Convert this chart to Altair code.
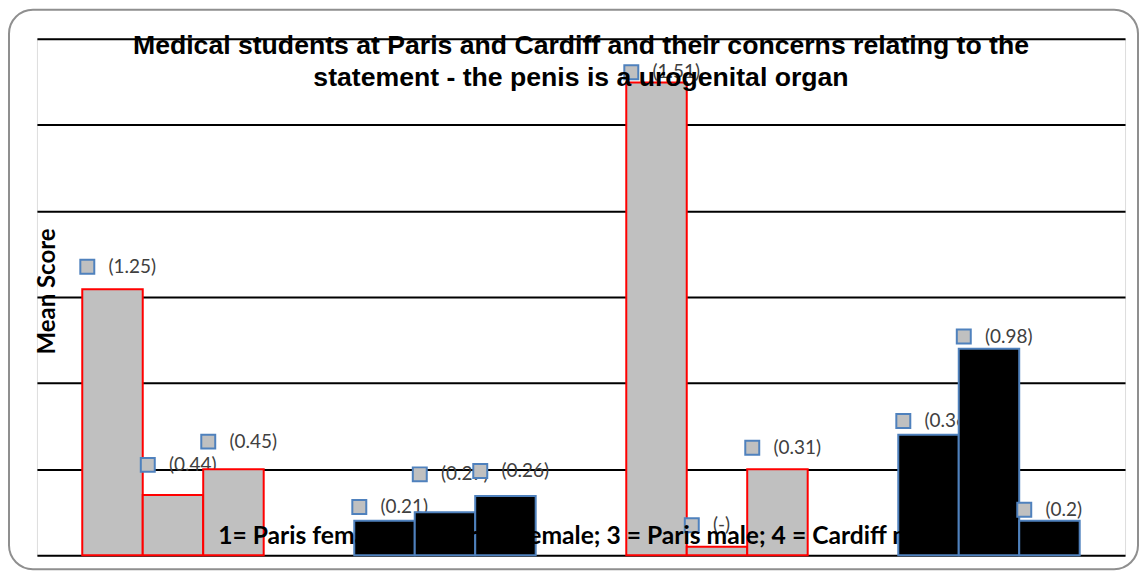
import altair as alt
import pandas as pd

# groups: 1 = Paris female; 2 = Cardiff female; 3 = Paris male; 4 = Cardiff male
groups = ["1", "2", "3", "4"]
cities = ["Paris", "Cardiff", "Paris", "Cardiff"]
sub_bars = ["a", "b", "c"]
mean_scores = [
    [3.09, 0.70, 1.00],
    [0.40, 0.50, 0.69],
    [5.49, 0.10, 1.00],
    [1.40, 2.40, 0.40],
]
marker_values = [
    [3.35, 1.05, 1.32],
    [0.56, 0.94, 0.98],
    [5.61, 0.35, 1.25],
    [1.56, 2.54, 0.53],
]
marker_labels = [
    ["(1.25)", "(0.44)", "(0.45)"],
    ["(0.21)", "(0.27)", "(0.26)"],
    ["(1.51)", "(-)", "(0.31)"],
    ["(0.36)", "(0.98)", "(0.2)"],
]
title_lines = [
    "Medical students at Paris and Cardiff and their concerns relating to the",
    "statement - the penis is a urogenital organ",
]
x_title = "1= Paris female; 2 = Cardiff female; 3 = Paris male; 4 = Cardiff male"
y_title = "Mean Score"

rows = []
for gi, g in enumerate(groups):
    for si, s in enumerate(sub_bars):
        rows.append({
            "group": g,
            "city": cities[gi],
            "sub": s,
            "mean": mean_scores[gi][si],
            "marker": marker_values[gi][si],
            "label": marker_labels[gi][si],
        })
df = pd.DataFrame(rows)

W, H = 1091, 518

x_enc = alt.X(
    "group:N",
    scale=alt.Scale(domain=groups, paddingInner=0.333, paddingOuter=0.1667),
    axis=alt.Axis(
        labels=False, ticks=False, domain=False, grid=False,
        title=x_title, titleFont="Lato", titleFontSize=24.7, titleFontWeight="bold",
        titleColor="#000000", titleY=-12, titleBaseline="alphabetic", zindex=2,
    ),
)
xo_enc = alt.XOffset("sub:N", scale=alt.Scale(domain=sub_bars, paddingInner=0, paddingOuter=0))
y_scale = alt.Scale(domain=[0, 6], nice=False, zero=True)

base = alt.Chart(df)

bars = base.mark_bar(strokeWidth=2).encode(
    x=x_enc,
    xOffset=xo_enc,
    y=alt.Y(
        "mean:Q",
        scale=y_scale,
        axis=alt.Axis(
            labels=False, ticks=False, domain=False, grid=True,
            values=[0, 1, 2, 3, 4, 5, 6], gridColor="#000000", gridWidth=2,
            title=y_title, titleFont="Lato", titleFontSize=24, titleFontWeight="bold",
            titleColor="#000000", titleX=18, titleY=253, titleAngle=270,
            titleAlign="center", titleBaseline="alphabetic",
        ),
    ),
    fill=alt.Fill("city:N", scale=alt.Scale(domain=["Paris", "Cardiff"], range=["#c0c0c0", "#000000"]), legend=None),
    stroke=alt.Stroke("city:N", scale=alt.Scale(domain=["Paris", "Cardiff"], range=["#ff0000", "#4f81bd"]), legend=None),
)

square_path = "M -4.61 -1 L -2.61 -1 L -2.61 1 L -4.61 1 Z"
markers = base.mark_point(
    shape=square_path, size=196, filled=True, fill="#c0c0c0", fillOpacity=1,
    stroke="#4f81bd", strokeWidth=2, strokeOpacity=1, opacity=1,
).encode(
    x="group:N",
    xOffset="sub:N",
    y=alt.Y("marker:Q", scale=y_scale),
)

labels = base.mark_text(
    align="left", baseline="middle", dx=-4, font="Lato", fontSize=19, color="#404040",
).encode(
    x="group:N",
    xOffset="sub:N",
    y=alt.Y("marker:Q", scale=y_scale),
    text="label:N",
)

dummy = pd.DataFrame({"k": [0]})
border = alt.Chart(dummy).mark_rect(
    fill="transparent", stroke="#8f8f8f", strokeWidth=2, cornerRadius=24,
).encode(
    x=alt.value(-28), x2=alt.value(W + 13), y=alt.value(-29), y2=alt.value(H + 14),
)

title = alt.Chart(dummy).mark_text(
    text=title_lines, font="Liberation Sans", fontWeight="bold", fontSize=26.7,
    lineHeight=32, align="center", baseline="alphabetic", color="#000000",
).encode(x=alt.value(W / 2), y=alt.value(15))

chart = alt.layer(border, labels, bars, markers, title).properties(
    width=W, height=H, padding=0,
).configure_view(strokeWidth=0).configure(background="white")

chart.save("out.html", embed_options={"renderer": "svg", "actions": False})
